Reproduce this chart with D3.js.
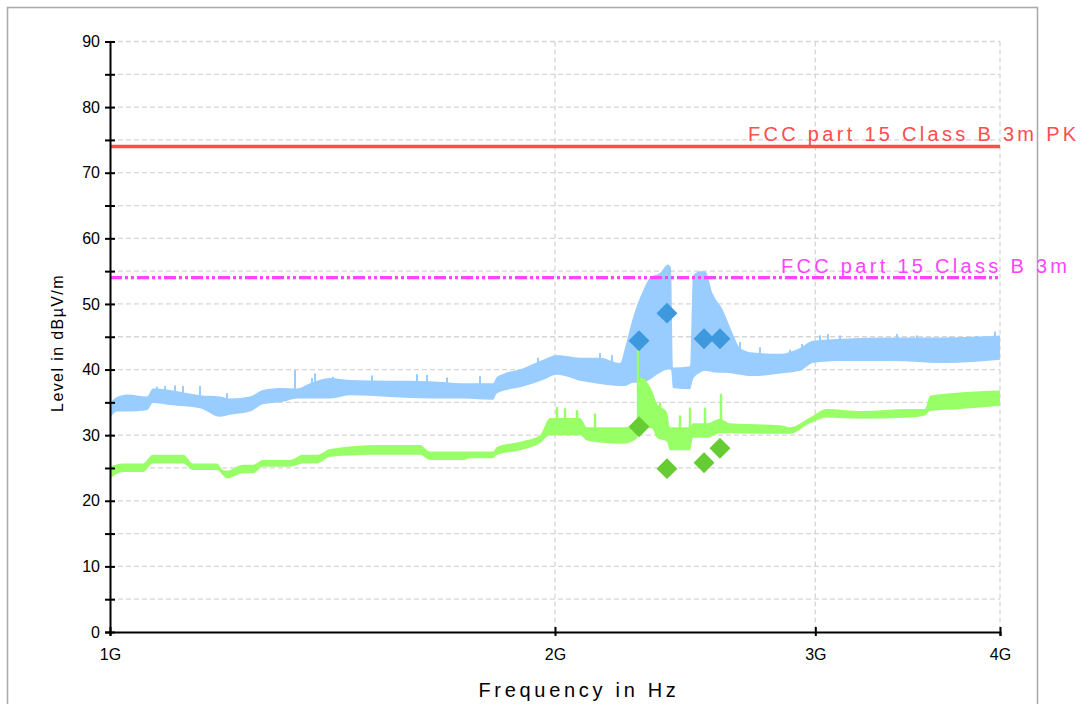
<!DOCTYPE html>
<html lang="en">
<head>
<meta charset="UTF-8">
<title>Radiated emission 1G - 4G</title>
<script src="https://cdnjs.cloudflare.com/ajax/libs/d3/7.8.5/d3.min.js"></script>
<style>
  body { margin: 0; background: #fff; }
  svg { display: block; font-family: Arial, "Liberation Sans", sans-serif; }
  .grid line { stroke: #d6d6d6; stroke-width: 1.3; stroke-dasharray: 5 3; }
  .axis path, .axis line { stroke: #000; stroke-width: 2; }
  .axis text { font-size: 16px; fill: #000; font-family: Arial, "Liberation Sans", sans-serif; }
</style>
</head>
<body>
<svg width="1081" height="704"></svg>
<script>
// frequencies in MHz, levels in dBuV/m
const peakFreq = [1000, 1011, 1026.8, 1059.3, 1069.3, 1098, 1150.5, 1186.9, 1205.5, 1243.7, 1269.1, 1309.3,
  1338.1, 1365.5, 1408.7, 1453.3, 1646.1, 1733, 1815.9, 1827.3, 1902.8, 1963, 2006.3, 2079.5, 2145.3,
  2213.2, 2230.4, 2258.4, 2293.8, 2318.9, 2355.4, 2384.8, 2395.9, 2403.4, 2467.9, 2479.4, 2506.6, 2526.4,
  2558, 2598.2, 2639, 2668, 2722.3, 2839.5, 2929.1, 2989.2, 3132.1, 3386, 3660, 4000];
const peakHi = [34.9, 35.8, 36.2, 35.9, 37.1, 36.9, 36.1, 35.9, 35.6, 35.9, 36.9, 37.2,
  37.1, 37.9, 38.7, 38.4, 38.2, 37.9, 37.9, 38.9, 40.2, 41.5, 42.2, 41.8, 41.8,
  41.0, 43.3, 47.9, 52.0, 54.0, 54.7, 56.0, 55.5, 40.3, 40.5, 54.3, 55.0, 55.0,
  51.5, 49.0, 45.4, 43.3, 42.6, 42.4, 43.3, 44.4, 44.7, 44.9, 44.9, 45.2];
const peakLo = [32.6, 33.6, 33.6, 33.8, 34.9, 34.6, 34.1, 32.8, 33.1, 33.6, 34.7, 35.1,
  35.6, 35.6, 35.6, 36.1, 35.6, 35.6, 35.4, 36.4, 37.4, 38.4, 39.2, 38.3, 37.8,
  37.5, 37.5, 38.0, 38.0, 38.5, 39.5, 40.0, 40.0, 37.2, 37.0, 38.5, 39.5, 39.8,
  39.6, 39.5, 39.4, 39.2, 39.0, 39.4, 39.8, 41.0, 41.3, 41.3, 41.0, 41.5];

const avgFreq = [1000, 1020.5, 1052.7, 1069.3, 1120.4, 1138, 1181.4, 1192.4, 1199.9, 1230.2, 1249.5, 1269.1,
  1323.6, 1350.7, 1380.5, 1408.7, 1522.8, 1620.7, 1646.1, 1733, 1751.9, 1815.9, 1827.3, 1893.9, 1953.8,
  1984.5, 2079.5, 2102.2, 2145.3, 2223.5, 2272.5, 2283.1, 2326.1, 2344.3, 2381.1, 2392.2, 2467.9, 2479.4,
  2534.1, 2586, 2626.7, 2839.5, 2884, 2975.3, 3055.1, 3216.2, 3476.8, 3558.8, 3587, 3758.6, 4000];
const avgHi = [25.2, 25.7, 25.7, 27.0, 27.0, 25.7, 25.7, 24.7, 24.6, 25.5, 25.5, 26.2,
  26.2, 27.0, 27.0, 27.9, 28.5, 28.5, 27.5, 27.5, 27.5, 27.5, 28.2, 29.0, 30.0,
  32.6, 32.6, 31.2, 31.2, 31.2, 31.5, 38.8, 36.8, 34.8, 33.5, 31.2, 31.2, 31.8,
  31.8, 32.5, 31.8, 31.5, 31.2, 32.7, 34.0, 33.7, 34.0, 34.0, 36.0, 36.5, 36.8];
const avgLo = [23.4, 24.4, 24.4, 25.7, 25.7, 24.7, 24.7, 23.9, 23.4, 24.2, 24.2, 25.2,
  25.2, 25.7, 25.7, 26.7, 27.0, 27.0, 26.2, 26.2, 26.5, 26.5, 27.0, 27.7, 28.8,
  30.0, 30.0, 29.2, 28.9, 28.7, 29.5, 31.2, 31.0, 29.6, 29.0, 27.7, 27.7, 29.6,
  29.6, 30.3, 30.3, 30.2, 30.2, 31.8, 32.7, 32.5, 32.7, 33.0, 33.7, 34.0, 34.5];

// single-bin spikes above the noise band
const peakSpikeFreq = [1076, 1089.4, 1106.5, 1120.4, 1150.5, 1199.9, 1334, 1369.8, 1376.2, 1415.3, 1504,
  1613.1, 1638.5, 1690.4, 1779.5, 1947.7, 2145.3, 2185.8, 2668, 2752.2, 2884, 2938.4, 3021.9, 3059.8,
  3117.5, 3216.2, 3407.2, 3514.8, 3700.2, 3859.1, 3968.9];
const peakSpikeVal = [37.4, 37.5, 37.6, 37.5, 37.5, 36.4, 39.9, 38.7, 39.4, 38.9, 39.1,
  39.3, 39.2, 38.8, 39.0, 41.8, 42.5, 42.2, 44.2, 43.4, 43.0, 43.9, 45.2, 45.4,
  45.2, 44.8, 45.4, 45.2, 45.0, 45.1, 45.8];
const avgSpikeFreq = [2006.3, 2031.4, 2069.8, 2128.6, 2276, 2300.9, 2355.4, 2429.8, 2467.9, 2526.4, 2590];
const avgSpikeVal = [34.3, 34.1, 33.8, 33.3, 43.0, 38.5, 35.0, 33.0, 34.2, 34.2, 36.3];

// final measurement markers
const markerFreq = [2279.6, 2381.1, 2522.6, 2586.0];
const markerPeak = [44.4, 48.6, 44.7, 44.7];
const markerAvg = [31.3, 24.9, 25.8, 28.0];

const limitPK = 74, limitAV = 54;
const limitPKLabel = "FCC part 15 Class B 3m PK";
const limitAVLabel = "FCC part 15 Class B 3m";

const xTicks = [1000, 2000, 3000, 4000];
const xTickLabels = ["1G", "2G", "3G", "4G"];
const yTicks = d3.range(0, 91, 5);

const svg = d3.select("svg");

// outer frame
svg.append("rect")
  .attr("x", 7.5).attr("y", 7.5).attr("width", 1030).attr("height", 720)
  .attr("fill", "#fff").attr("stroke", "#ababab").attr("stroke-width", 1.6);

const x = d3.scaleLog().domain([1000, 4000]).range([110, 1000]);
const y = d3.scaleLinear().domain([0, 90]).range([632, 41.5]);

// grid
const grid = svg.append("g").attr("class", "grid");
grid.selectAll(".h").data(yTicks.filter(d => d > 0)).enter().append("line")
  .attr("x1", x(1000)).attr("x2", x(4000))
  .attr("y1", d => y(d)).attr("y2", d => y(d));
grid.selectAll(".v").data(xTicks.slice(1)).enter().append("line")
  .attr("x1", d => x(d)).attr("x2", d => x(d))
  .attr("y1", y(90)).attr("y2", y(0));

function pts(f, lo, hi) {
  return f.map((d, i) => ({ f: d, lo: lo[i], hi: hi[i] }));
}
const area = d3.area().curve(d3.curveMonotoneX)
  .x(d => x(d.f)).y0(d => y(d.lo)).y1(d => y(d.hi));

const peak = pts(peakFreq, peakLo, peakHi);
const avg = pts(avgFreq, avgLo, avgHi);
const bandLo = (data, f) => {
  const i = d3.bisector(d => d.f).left(data, f);
  const a = data[Math.max(0, i - 1)], b = data[Math.min(data.length - 1, i)];
  return Math.max(a.lo, b.lo);
};

svg.append("path").datum(peak).attr("d", area).attr("fill", "#99ccff");
svg.selectAll(".pspike").data(peakSpikeFreq).enter().append("line")
  .attr("x1", d => x(d)).attr("x2", d => x(d))
  .attr("y1", d => y(bandLo(peak, d) + 1)).attr("y2", (d, i) => y(peakSpikeVal[i]))
  .attr("stroke", "#99ccff").attr("stroke-width", 2);

svg.append("path").datum(avg).attr("d", area).attr("fill", "#99ff66");
svg.selectAll(".aspike").data(avgSpikeFreq).enter().append("line")
  .attr("x1", d => x(d)).attr("x2", d => x(d))
  .attr("y1", d => y(bandLo(avg, d) + 0.5)).attr("y2", (d, i) => y(avgSpikeVal[i]))
  .attr("stroke", "#99ff66").attr("stroke-width", 2.4);

// limit lines
svg.append("line")
  .attr("x1", x(1000)).attr("x2", x(4000)).attr("y1", y(limitPK)).attr("y2", y(limitPK))
  .attr("stroke", "#ff4d4d").attr("stroke-width", 3.5);
svg.append("line")
  .attr("x1", x(1000)).attr("x2", x(4000)).attr("y1", y(limitAV)).attr("y2", y(limitAV))
  .attr("stroke", "#ff44ff").attr("stroke-width", 3.2).attr("stroke-dasharray", "12 3 3 3 3 3");

svg.append("text").attr("x", 748).attr("y", y(limitPK) - 5)
  .style("font-size", "20px").style("letter-spacing", "3.3px").attr("fill", "#ff4d4d")
  .text(limitPKLabel);
svg.append("text").attr("x", 781).attr("y", y(limitAV) - 5)
  .style("font-size", "20px").style("letter-spacing", "3.3px").attr("fill", "#ff44ff")
  .text(limitAVLabel);

// markers
const diamond = d3.symbol().type(d3.symbolSquare).size(220);
svg.selectAll(".mp").data(markerFreq).enter().append("path")
  .attr("d", diamond)
  .attr("transform", (d, i) => `translate(${x(d)},${y(markerPeak[i])}) rotate(45)`)
  .attr("fill", "#3d98de");
svg.selectAll(".ma").data(markerFreq).enter().append("path")
  .attr("d", diamond)
  .attr("transform", (d, i) => `translate(${x(d)},${y(markerAvg[i])}) rotate(45)`)
  .attr("fill", "#66cc33");

// axes
const yAxis = svg.append("g").attr("class", "axis")
  .attr("transform", `translate(${x(1000)},0)`)
  .call(d3.axisLeft(y).tickValues(yTicks).tickSizeOuter(0).tickSize(5).tickPadding(5)
    .tickFormat(d => d % 10 === 0 ? d : ""));
yAxis.selectAll(".tick line").attr("x1", 5).attr("x2", -5);

const xAxis = svg.append("g").attr("class", "axis")
  .attr("transform", `translate(0,${y(0)})`)
  .call(d3.axisBottom(x).tickValues(xTicks).tickSizeOuter(0).tickSize(4)
    .tickFormat((d, i) => xTickLabels[i]));
xAxis.selectAll(".tick line").attr("y1", -5).attr("y2", 4).attr("stroke-width", 1.6);
xAxis.selectAll(".tick text").attr("y", 17);

// axis titles
svg.append("text")
  .attr("x", 579).attr("y", 697).attr("text-anchor", "middle")
  .style("font-size", "20px").style("letter-spacing", "3.7px")
  .text("Frequency in Hz");
svg.append("text")
  .attr("transform", "translate(63,343) rotate(-90)").attr("text-anchor", "middle")
  .style("font-size", "16px").style("letter-spacing", "1.4px")
  .text("Level in dBµV/m");
</script>
</body>
</html>
